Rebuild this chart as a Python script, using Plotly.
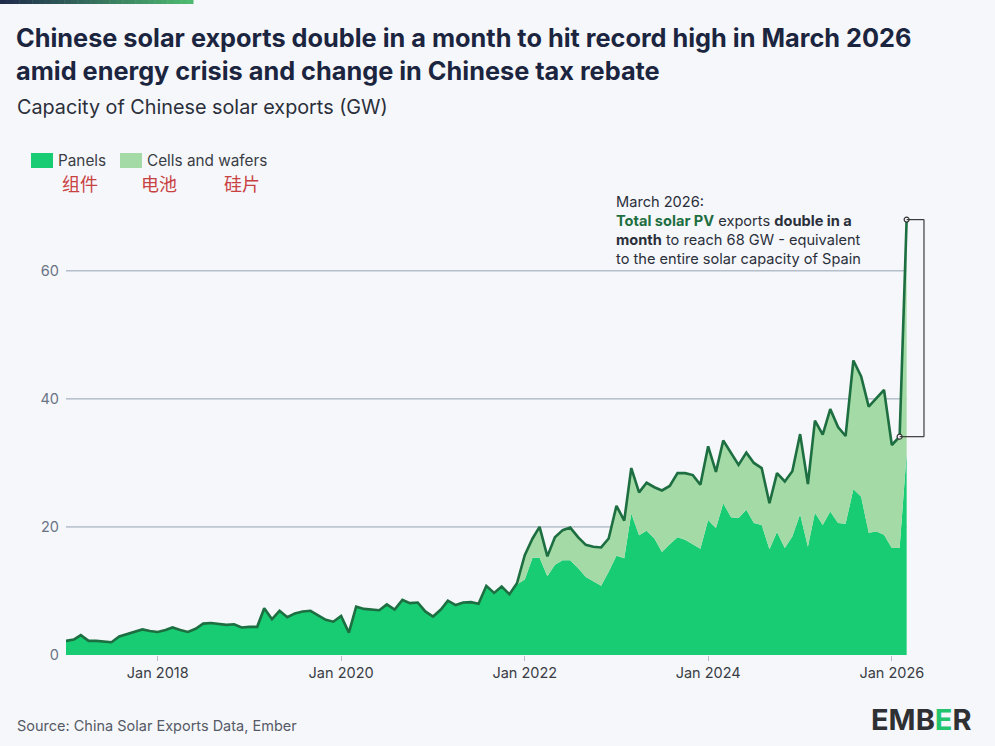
import pandas as pd
import plotly.graph_objects as go

# monthly data, Jan 2017 - Mar 2026 (GW)
months = pd.date_range("2017-01-01", "2026-03-01", freq="MS")

total = [
    2.2, 2.4, 3.1, 2.2, 2.2, 2.1, 2.0, 2.9, 3.3, 3.6, 4.0, 3.75,
    3.6, 3.9, 4.3, 3.9, 3.6, 4.1, 4.9, 5.0, 4.9, 4.7, 4.8, 4.3,
    4.4, 4.4, 7.3, 5.6, 6.9, 5.9, 6.5, 6.8, 6.9, 6.25, 5.5, 5.2,
    6.1, 3.5, 7.55, 7.2, 7.1, 7.0, 7.9, 7.1, 8.6, 8.1, 8.2, 6.8,
    6.0, 7.1, 8.5, 7.8, 8.2, 8.25, 8.0, 10.8, 9.7, 10.7, 9.5, 11.2,
    15.6, 18.2, 20.0, 15.4, 18.4, 19.5, 19.9, 18.4, 17.2, 16.9, 16.8, 18.2,
    23.3, 21.0, 29.2, 25.4, 26.9, 26.2, 25.7, 26.4, 28.4, 28.4, 28.1, 26.6,
    32.6, 28.6, 33.5, 31.5, 29.7, 31.6, 30.0, 29.2, 23.7, 28.4, 27.1, 28.7,
    34.5, 26.7, 36.6, 34.4, 38.4, 35.6, 34.2, 46.0, 43.5, 38.8, 40.1, 41.4,
    32.8, 34.1, 68.0,
]

panels = [
    2.2, 2.4, 3.1, 2.2, 2.2, 2.1, 2.0, 2.9, 3.3, 3.6, 4.0, 3.75,
    3.6, 3.9, 4.3, 3.9, 3.6, 4.1, 4.9, 5.0, 4.9, 4.7, 4.8, 4.3,
    4.4, 4.4, 7.3, 5.6, 6.9, 5.9, 6.5, 6.8, 6.9, 6.25, 5.5, 5.2,
    6.1, 3.5, 7.55, 7.2, 7.1, 7.0, 7.9, 7.1, 8.6, 8.1, 8.2, 6.8,
    6.0, 7.1, 8.5, 7.8, 8.2, 8.25, 8.0, 10.8, 9.7, 10.7, 9.5, 11.0,
    11.8, 15.2, 15.2, 12.3, 14.1, 14.8, 14.8, 13.6, 12.2, 11.5, 10.8, 13.0,
    15.5, 15.1, 22.1, 18.7, 19.4, 18.2, 16.1, 17.3, 18.4, 18.0, 17.3, 16.6,
    21.1, 19.8, 23.7, 21.5, 21.4, 22.7, 20.6, 20.3, 16.5, 19.2, 16.7, 18.5,
    22.0, 16.9, 22.2, 20.3, 22.4, 20.6, 20.5, 25.9, 24.7, 19.1, 19.3, 18.8,
    16.7, 16.7, 31.5,
]

xtick_years = [2018, 2020, 2022, 2024, 2026]
ytick_vals = [0, 20, 40, 60]

PANELS_C = "#17cc73"
CELLS_C = "#a3daa6"
LINE_C = "#1d6e40"
BG = "#f5f7fa"
FONT = "Inter, sans-serif"

W, H = 995, 746
L, R, T, B = 66, 66, 194, 91


def px_x(px):
    return (px - L) / (W - L - R)


def px_y(py):
    return (H - B - py) / (H - T - B)


fig = go.Figure()
fig.add_trace(
    go.Scatter(
        x=months, y=panels, mode="lines", line=dict(width=0, color=PANELS_C),
        fill="tozeroy", fillcolor=PANELS_C, name="Panels", hoverinfo="skip",
    )
)
fig.add_trace(
    go.Scatter(
        x=months, y=total, mode="lines", line=dict(width=2.6, color=LINE_C),
        fill="tonexty", fillcolor=CELLS_C, name="Total", hoverinfo="skip",
    )
)
# end points of the bracket
fig.add_trace(
    go.Scatter(
        x=months[-2:], y=total[-2:], mode="markers",
        marker=dict(size=5, color=BG, line=dict(color="#333", width=1.2)),
        cliponaxis=False, hoverinfo="skip",
    )
)

shapes = []
for v in ytick_vals[1:]:
    shapes.append(dict(
        type="line", xref="x", yref="y", x0=months[0], x1=months[-1], y0=v, y1=v,
        line=dict(color="#96a1b3", width=1), layer="below",
    ))

bx = "2026-05-09"
for x0, y0, x1, y1 in [
    (months[-2], total[-2], bx, total[-2]),
    (bx, total[-2], bx, total[-1]),
    (bx, total[-1], months[-1], total[-1]),
]:
    shapes.append(dict(
        type="line", xref="x", yref="y", x0=x0, y0=y0, x1=x1, y1=y1,
        line=dict(color="#3a3a3a", width=1.2),
    ))

# gradient bar at the top
n = 30
for i in range(n):
    t = i / (n - 1)
    r = int(32 + t * (78 - 32))
    g = int(44 + t * (186 - 44))
    b = int(76 + t * (112 - 76))
    shapes.append(dict(
        type="rect", xref="paper", yref="paper",
        x0=px_x(193 * i / n), x1=px_x(193 * (i + 1) / n + 0.5),
        y0=px_y(4), y1=px_y(0), line=dict(width=0), fillcolor=f"rgb({r},{g},{b})",
    ))

# legend swatches
for x0, c in [(31, PANELS_C), (120, CELLS_C)]:
    shapes.append(dict(
        type="rect", xref="paper", yref="paper",
        x0=px_x(x0), x1=px_x(x0 + 22), y0=px_y(168), y1=px_y(153),
        line=dict(width=0), fillcolor=c,
    ))

ann = []
ann.append(dict(
    xref="paper", yref="paper", x=px_x(14), y=px_y(20), xanchor="left", yanchor="top",
    align="left", showarrow=False,
    text="<b>Chinese solar exports double in a month to hit record high in March 2026<br>"
         "amid energy crisis and change in Chinese tax rebate</b>",
    font=dict(family=FONT, size=25.3, color="#1c2540"),
))
ann.append(dict(
    xref="paper", yref="paper", x=px_x(15), y=px_y(107), xanchor="left", yanchor="middle",
    showarrow=False, text="Capacity of Chinese solar exports (GW)",
    font=dict(family=FONT, size=19.8, color="#2b2f3a"),
))
for x, label in [(56, "Panels"), (145, "Cells and wafers")]:
    ann.append(dict(
        xref="paper", yref="paper", x=px_x(x), y=px_y(160), xanchor="left", yanchor="middle",
        showarrow=False, text=label, font=dict(family=FONT, size=15.3, color="#3a3d45"),
    ))
for x, label in [(80, "组件"), (159, "电池"), (242, "硅片")]:
    ann.append(dict(
        xref="paper", yref="paper", x=px_x(x), y=px_y(183), xanchor="center", yanchor="middle",
        showarrow=False, text=label,
        font=dict(family="Noto Sans CJK SC", size=18, color="#c94242"),
    ))
ann.append(dict(
    xref="paper", yref="paper", x=px_x(615), y=px_y(192), xanchor="left", yanchor="top",
    align="left", showarrow=False, borderpad=0,
    text="March 2026:<br>"
         f"<b><span style='color:{LINE_C}'>Total solar PV</span></b> exports <b>double in a</b><br>"
         "<b>month</b> to reach 68 GW - equivalent<br>"
         "to the entire solar capacity of Spain",
    font=dict(family=FONT, size=14.6, color="#2b2f3a"),
))
ann.append(dict(
    xref="paper", yref="paper", x=px_x(15), y=px_y(725), xanchor="left", yanchor="middle",
    showarrow=False, text="Source: China Solar Exports Data, Ember",
    font=dict(family=FONT, size=14.5, color="#555a66"),
))
ann.append(dict(
    xref="paper", yref="paper", x=px_x(921), y=px_y(719), xanchor="center", yanchor="middle",
    showarrow=False, text="<b>EMB<span style='color:#22c46e'>E</span>R</b>",
    font=dict(family=FONT, size=29, color="#2f3033"),
))

fig.update_layout(
    width=W, height=H,
    margin=dict(l=L, r=R, t=T, b=B),
    paper_bgcolor=BG, plot_bgcolor=BG,
    showlegend=False,
    shapes=shapes, annotations=ann,
    xaxis=dict(
        range=["2017-01-01", "2026-05-29"],
        tickvals=[f"{y}-01-01" for y in xtick_years],
        ticktext=[f"Jan {y}" for y in xtick_years],
        ticks="outside", ticklen=5, tickcolor="#b4bcc8",
        showgrid=False, zeroline=False, showline=False,
        tickfont=dict(family=FONT, size=14.5, color="#3a3d45"),
    ),
    yaxis=dict(
        range=[0, 72], tickvals=ytick_vals,
        showgrid=False, zeroline=False, showline=False,
        ticks="", ticklabelstandoff=6,
        tickfont=dict(family=FONT, size=14.5, color="#6a7385"),
    ),
)

fig.write_html(
    "out.html",
    config={"displayModeBar": False},
    post_script="document.body.style.margin='0';",
)
